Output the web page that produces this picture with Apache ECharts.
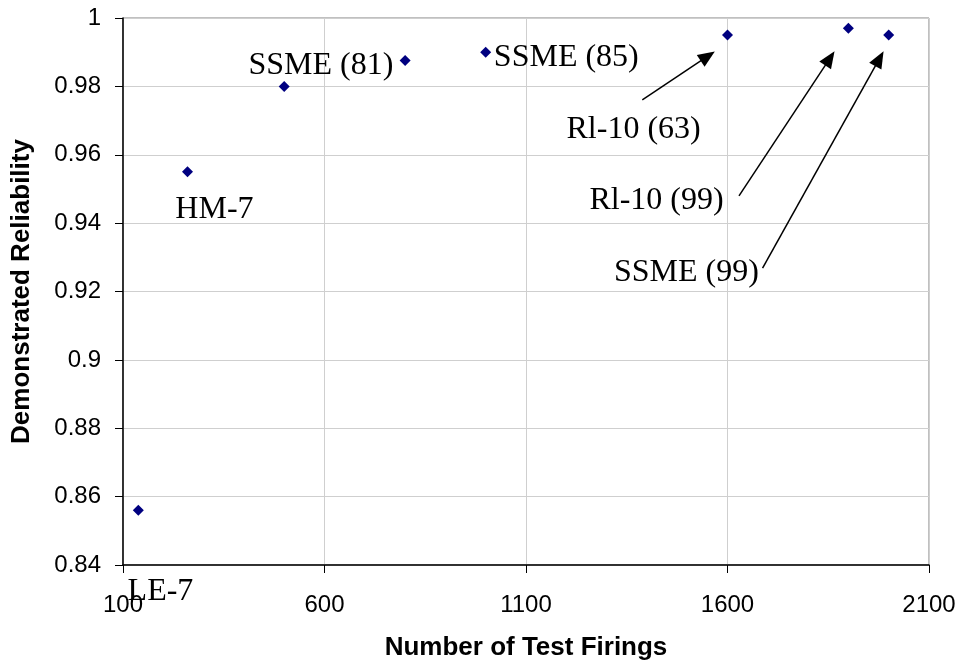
<!DOCTYPE html>
<html>
<head>
<meta charset="utf-8">
<script src="https://cdn.jsdelivr.net/npm/echarts@6/dist/echarts.min.js"></script>
<style>html,body{margin:0;padding:0;background:#fff}#chart{width:962px;height:662px}</style>
</head>
<body>
<div id="chart"></div>
<script>
// Data
const firings = [138, 260, 500, 800, 1000, 1600, 1900, 2000];
const reliability = [0.856, 0.955, 0.980, 0.9876, 0.990, 0.995, 0.997, 0.995];
const xTicks = [100, 600, 1100, 1600, 2100];
const labelTexts = ['LE-7', 'HM-7', 'SSME (81)', 'SSME (85)', 'Rl-10 (63)', 'Rl-10 (99)', 'SSME (99)'];

// Annotation placement (data units)
const labelAnchors = [[193, 0.8322], [327, 0.9440], [591, 0.9860], [1200, 0.9883], [1367, 0.9674], [1424, 0.9465], [1498, 0.9254]];
const arrows = [
  [[1388.6, 0.97603], [1551, 0.98883]],
  [[1628.5, 0.94797], [1854, 0.98819]],
  [[1687, 0.92683], [1977, 0.98810]]
];

const chart = echarts.init(document.getElementById('chart'), null, {renderer: 'canvas'});
const sans = 'Liberation Sans, Arial, sans-serif';
const serif = 'Liberation Serif, Times New Roman, serif';

chart.setOption({
  animation: false,
  backgroundColor: '#fff',
  grid: {left: 123, right: 33, top: 18, bottom: 97, show: true, borderColor: '#808080', borderWidth: 1,
    containLabel: false, outerBoundsMode: 'none'},
  xAxis: {
    type: 'value', min: 100, max: 2100,
    name: 'Number of Test Firings', nameLocation: 'middle', nameGap: 70,
    nameTextStyle: {fontFamily: sans, fontWeight: 'bold', fontSize: 26, color: '#000'},
    axisLine: {show: true, onZero: false, lineStyle: {color: '#000', width: 1.5}},
    axisTick: {show: true, inside: false, length: 8, lineStyle: {color: '#000'}, customValues: xTicks},
    axisLabel: {fontFamily: sans, fontSize: 24, color: '#000', margin: 28, customValues: xTicks,
      formatter: v => String(v)},
    splitLine: {show: true, lineStyle: {color: '#cfcfcf', width: 1}}
  },
  yAxis: {
    type: 'value', min: 0.84, max: 1, interval: 0.02,
    name: 'Demonstrated Reliability', nameLocation: 'middle', nameGap: 88,
    nameTextStyle: {fontFamily: sans, fontWeight: 'bold', fontSize: 26, color: '#000'},
    axisLine: {show: true, onZero: false, lineStyle: {color: '#000', width: 1.5}},
    axisTick: {show: true, inside: false, length: 8, lineStyle: {color: '#000'}},
    axisLabel: {fontFamily: sans, fontSize: 24, color: '#000', margin: 22,
      formatter: v => String(Math.round(v * 100) / 100)},
    splitLine: {show: true, lineStyle: {color: '#cfcfcf', width: 1}}
  },
  series: [
    {
      type: 'scatter',
      symbol: 'diamond', symbolSize: 11,
      itemStyle: {color: '#000080', opacity: 1},
      data: firings.map((x, i) => [x, reliability[i]])
    },
    {
      type: 'scatter',
      clip: false,
      silent: true,
      symbolSize: 0,
      itemStyle: {opacity: 1},
      label: {show: true, position: 'inside', formatter: p => labelTexts[p.dataIndex],
        fontFamily: serif, fontSize: 32, color: '#000', textBorderWidth: 0},
      data: labelAnchors,
      markLine: {
        silent: true,
        symbol: ['none', 'triangle'],
        symbolSize: [14, 17],
        label: {show: false},
        lineStyle: {color: '#000', width: 1.5, type: 'solid', opacity: 1},
        itemStyle: {color: '#000'},
        data: arrows.map(a => [{coord: a[0]}, {coord: a[1]}])
      }
    }
  ]
});
</script>
</body>
</html>
